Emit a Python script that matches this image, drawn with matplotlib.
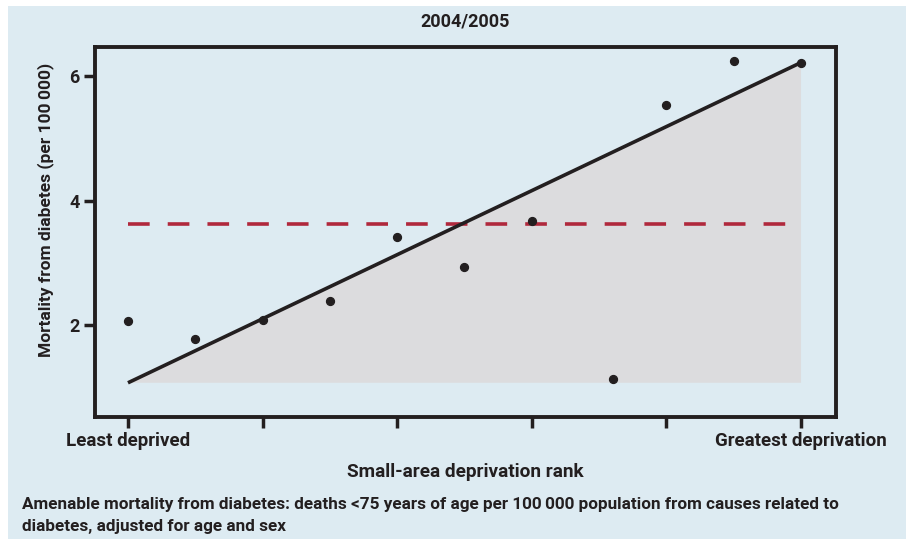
import matplotlib.pyplot as plt
from matplotlib.patches import Rectangle

# values
rank = [0, 1, 2, 3, 4, 5, 6, 7.2, 8, 9, 10]
mortality = [2.07, 1.78, 2.08, 2.39, 3.41, 2.93, 3.67, 1.13, 5.53, 6.24, 6.22]
fit_x = [0, 10]
fit_y = [1.07, 6.22]
mean_level = 3.62
tick_pos = [0, 2, 4, 6, 8, 10]
tick_labels = ['Least deprived', '', '', '', '', 'Greatest deprivation']
y_ticks = [2, 4, 6]

bg = '#ddebf2'
ink = '#231f20'
plt.rcParams['font.family'] = ['Roboto', 'DejaVu Sans']

fig = plt.figure(figsize=(9.06, 5.39), dpi=100)
fig.patch.set_facecolor('white')
fig.patches.append(Rectangle((8 / 906, 0), 1, 1 - 6 / 539, transform=fig.transFigure,
                             facecolor=bg, edgecolor='none', zorder=-5))

ax = fig.add_axes([95 / 906, 1 - 417 / 539, 741 / 906, 370 / 539])
ax.set_facecolor(bg)

# shaded triangle under the fitted line
ax.fill([fit_x[0], fit_x[1], fit_x[1]], [fit_y[0], fit_y[1], fit_y[0]],
        color='#dcdcde', zorder=1, lw=0)
ax.plot(fit_x, [mean_level, mean_level], color='#b0283c', lw=2.6,
        dashes=(6, 5), zorder=2)
ax.plot(fit_x, fit_y, color=ink, lw=2.6, zorder=3, solid_capstyle='butt')
ax.scatter(rank, mortality, s=32, color=ink, zorder=4)

ax.set_xlim(-0.49, 10.52)
ax.set_ylim(0.52, 6.47)
ax.set_xticks(tick_pos)
ax.set_xticklabels(tick_labels, fontsize=13.5, fontweight='bold', color=ink)
ax.set_yticks(y_ticks)
ax.set_yticklabels([str(v) for v in y_ticks], fontsize=13, fontweight='bold', color=ink)
ax.tick_params(axis='both', length=8, width=2.5, color=ink, pad=3)

for sp in ax.spines.values():
    sp.set_linewidth(2.8)
    sp.set_color(ink)

ax.set_ylabel('Mortality from diabetes (per 100\u2009000)', fontsize=12.5,
              fontweight='bold', color=ink)
ax.yaxis.set_label_coords(-0.056, 0.56)
ax.set_xlabel('Small-area deprivation rank', fontsize=13.7, fontweight='bold',
              color=ink, labelpad=9)
fig.text(465 / 906, 1 - 22 / 539, '2004/2005', ha='center', va='center',
         fontsize=13, fontweight='bold', color=ink)
fig.text(22 / 906, 1 - 504 / 539,
         'Amenable mortality from diabetes: deaths <75 years of age per 100\u2009000 population from causes related to',
         ha='left', va='center', fontsize=12.3, fontweight='bold', color=ink)
fig.text(22 / 906, 1 - 527 / 539, 'diabetes, adjusted for age and sex',
         ha='left', va='center', fontsize=12.3, fontweight='bold', color=ink)

fig.savefig('out.png', dpi=100, facecolor=fig.get_facecolor())
